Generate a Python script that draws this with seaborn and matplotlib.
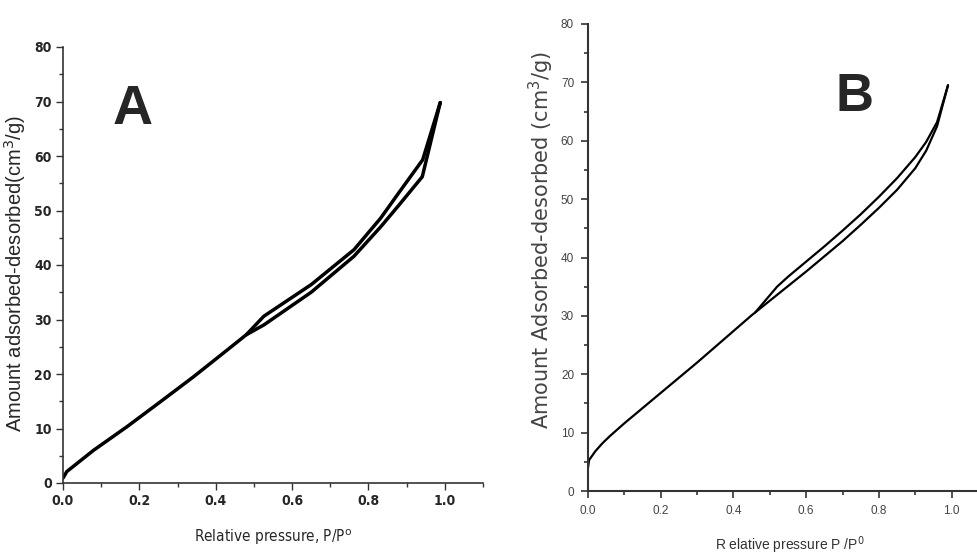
import matplotlib
matplotlib.use("Agg")
import matplotlib.pyplot as plt
from matplotlib.ticker import MultipleLocator
import seaborn as sns
import pandas as pd

sns.set_theme(style="ticks")
plt.rcParams['font.family'] = ['Liberation Sans', 'DejaVu Sans']

# Panel A
a_ads_x = [0.0, 0.01, 0.08, 0.167, 0.255, 0.342, 0.43, 0.48, 0.526, 0.65, 0.762, 0.832, 0.88, 0.941, 0.988]
a_ads_y = [0.9, 2.1, 6.0, 10.3, 14.9, 19.5, 24.4, 27.2, 29.0, 35.0, 41.6, 47.0, 51.0, 56.2, 69.8]
a_des_x = [0.988, 0.942, 0.88, 0.832, 0.762, 0.65, 0.526, 0.48]
a_des_y = [69.8, 59.3, 53.3, 48.6, 42.8, 36.4, 30.6, 27.2]

# Panel B
b_ads_x = [0.0, 0.003, 0.02, 0.04, 0.06, 0.08, 0.1, 0.15, 0.2, 0.3, 0.4, 0.45, 0.5, 0.55,
           0.6, 0.65, 0.7, 0.75, 0.8, 0.85, 0.9, 0.93, 0.96, 0.99]
b_ads_y = [4.0, 5.3, 6.8, 8.2, 9.4, 10.5, 11.6, 14.2, 16.8, 22.0, 27.4, 30.1, 32.6, 35.1,
           37.6, 40.2, 42.8, 45.6, 48.5, 51.6, 55.3, 58.3, 62.5, 69.5]
b_des_x = [0.99, 0.96, 0.93, 0.9, 0.85, 0.8, 0.75, 0.7, 0.65, 0.6, 0.55, 0.52, 0.49, 0.46]
b_des_y = [69.5, 63.2, 59.8, 57.2, 53.6, 50.4, 47.4, 44.6, 41.9, 39.3, 36.7, 35.0, 32.8, 30.6]

x_ticks = [0.0, 0.2, 0.4, 0.6, 0.8, 1.0]
y_ticks = [0, 10, 20, 30, 40, 50, 60, 70, 80]

fig = plt.figure(figsize=(9.78, 5.59), dpi=100)
axA = fig.add_axes([63/978, 1-483/559, 420/978, 436/559])
axB = fig.add_axes([588/978, 1-491/559, 400/978, 467/559])

def draw(ax, ads_x, ads_y, des_x, des_y, lw):
    da = pd.DataFrame({"x": ads_x, "y": ads_y})
    dd = pd.DataFrame({"x": des_x, "y": des_y})
    sns.lineplot(data=da, x="x", y="y", ax=ax, sort=False, estimator=None, color="black", lw=lw)
    sns.lineplot(data=dd, x="x", y="y", ax=ax, sort=False, estimator=None, color="black", lw=lw)
    ax.set_xlim(0, 1.1)
    ax.set_ylim(0, 80)
    ax.set_xticks(x_ticks)
    ax.set_yticks(y_ticks)
    ax.xaxis.set_minor_locator(MultipleLocator(0.1))
    ax.yaxis.set_minor_locator(MultipleLocator(5))
    for s in ["top", "right"]:
        ax.spines[s].set_visible(False)

narrow = ["Liberation Sans Narrow", "DejaVu Sans"]

# A
draw(axA, a_ads_x, a_ads_y, a_des_x, a_des_y, 2.5)
axA.set_xticklabels([f"{v:.1f}" for v in x_ticks], fontweight="bold", fontsize=10,
                    family=narrow, fontstretch="condensed")
axA.set_yticklabels([str(v) for v in y_ticks], fontweight="bold", fontsize=10,
                    family=narrow, fontstretch="condensed")
axA.tick_params(which="major", direction="out", length=5, width=1, color="#333", pad=3)
axA.tick_params(which="minor", direction="out", length=3, width=1, color="#333")
for s in ["left", "bottom"]:
    axA.spines[s].set_linewidth(1.2)
    axA.spines[s].set_color("#333")
axA.set_xlabel("Relative pressure, P/P$^{\\mathrm{o}}$", fontsize=11, labelpad=14,
               family=narrow, fontstretch="condensed")
axA.set_ylabel("Amount adsorbed-desorbed(cm$^3$/g)", fontsize=14.5)
axA.yaxis.set_label_coords(-0.083, 0.48)
fig.text(133/978, 1-110/559, "A", fontsize=40, fontweight="bold", ha="center", va="center")

# B
draw(axB, b_ads_x, b_ads_y, b_des_x, b_des_y, 1.6)
axB.set_xticklabels([f"{v:.1f}" for v in x_ticks], fontsize=8.5, color="#444")
axB.set_yticklabels([str(v) for v in y_ticks], fontsize=8.5, color="#444")
axB.tick_params(which="major", direction="out", length=5, width=1.2, color="#333", pad=5)
axB.tick_params(which="minor", direction="out", length=3, width=1.2, color="#333")
for s in ["left", "bottom"]:
    axB.spines[s].set_linewidth(1.5)
    axB.spines[s].set_color("#333")
axB.set_xlabel("R elative pressure P /P$^{0}$", fontsize=10, color="#333")
axB.xaxis.set_label_coords(0.505, -0.094)
axB.set_ylabel("Amount Adsorbed-desorbed (cm$^3$/g)", fontsize=15, color="#444",
               family=["DejaVu Sans"])
axB.yaxis.set_label_coords(-0.08, 0.537)
fig.text(855/978, 1-97/559, "B", fontsize=38, fontweight="bold", ha="center", va="center")

fig.savefig("out.png", dpi=100)
